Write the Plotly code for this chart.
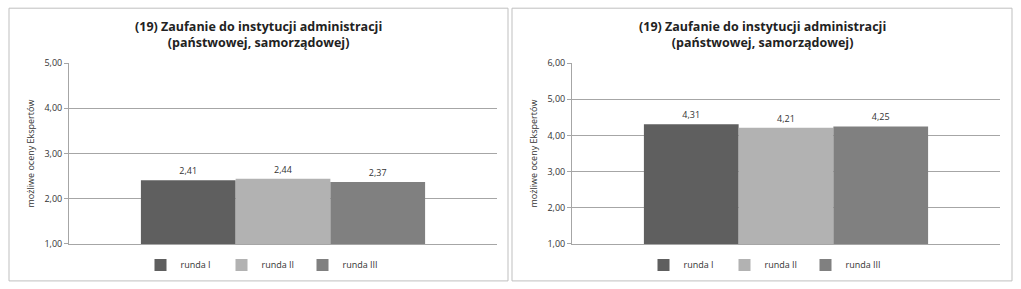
import plotly.graph_objects as go

series_names = ["runda I", "runda II", "runda III"]
colors = ["#5f5f5f", "#b2b2b2", "#808080"]
left_values = [2.41, 2.44, 2.37]
right_values = [4.31, 4.21, 4.25]
category = [""]
title_text = "<b>(19) Zaufanie do instytucji administracji<br>(państwowej, samorządowej)</b>"
y_title = "możliwe oceny Ekspertów"
left_ticks = [1, 2, 3, 4, 5]
right_ticks = [1, 2, 3, 4, 5, 6]

W, H = 1021, 289
FONT = "Open Sans"

def px_x(p):
    return p / W

def px_y(r):
    # empirical correction of vertical placement
    t = (r - 6.8) / 0.956
    return (H - t) / H

fig = go.Figure()

for i, (name, col) in enumerate(zip(series_names, colors)):
    fig.add_trace(go.Bar(
        x=category, y=[left_values[i]], name=name, marker_color=col,
        marker_line_width=0,
        text=[f"{left_values[i]:.2f}".replace(".", ",")], textposition="outside",
        textfont=dict(size=9, color="#333333", family=FONT), cliponaxis=False,
        xaxis="x", yaxis="y", legend="legend", showlegend=True,
    ))
for i, (name, col) in enumerate(zip(series_names, colors)):
    fig.add_trace(go.Bar(
        x=category, y=[right_values[i]], name=name, marker_color=col,
        marker_line_width=0,
        text=[f"{right_values[i]:.2f}".replace(".", ",")], textposition="outside",
        textfont=dict(size=9, color="#333333", family=FONT), cliponaxis=False,
        xaxis="x2", yaxis="y2", legend="legend2", showlegend=True,
    ))

ydom = [px_y(244), px_y(63)]
axis_common = dict(
    showgrid=True, gridcolor="#a6a6a6", gridwidth=1,
    showline=True, linecolor="#a6a6a6", linewidth=1,
    ticks="outside", ticklen=4, tickcolor="#a6a6a6",
    tickformat=".2f", tickfont=dict(size=9, color="#333333", family=FONT),
    zeroline=False,
)
legend_common = dict(orientation="h", xanchor="center", yanchor="middle",
                     font=dict(size=9, family=FONT, color="#333333"), itemwidth=30,
                     entrywidth=36, entrywidthmode="pixels",
                     bgcolor="rgba(0,0,0,0)", tracegroupgap=0, itemsizing="constant")
fig.update_layout(
    width=W, height=H,
    margin=dict(l=0, r=0, t=0, b=0),
    paper_bgcolor="white", plot_bgcolor="white",
    separators=", ",
    barmode="group", bargap=0.336, bargroupgap=0,
    font=dict(family=FONT, color="#333333"),
    xaxis=dict(domain=[px_x(69), px_x(497)], showline=True, linecolor="#a6a6a6",
               showticklabels=False, ticks=""),
    yaxis=dict(domain=ydom, range=[1, 5], tickvals=left_ticks, anchor="x",
               title=dict(text=y_title, font=dict(size=9, family=FONT, color="#333333"), standoff=8),
               **axis_common),
    xaxis2=dict(domain=[px_x(572), px_x(1000)], showline=True, linecolor="#a6a6a6",
                showticklabels=False, ticks="", anchor="y2"),
    yaxis2=dict(domain=ydom, range=[1, 6], tickvals=right_ticks, anchor="x2",
                title=dict(text=y_title, font=dict(size=9, family=FONT, color="#333333"), standoff=8),
                **axis_common),
    legend=dict(x=px_x(262), y=px_y(265), **legend_common),
    legend2=dict(x=px_x(765), y=px_y(265), **legend_common),
    shapes=[
        dict(type="rect", xref="paper", yref="paper", x0=px_x(9), x1=px_x(508),
             y0=px_y(281), y1=px_y(8), line=dict(color="#bfbfbf", width=1), layer="below"),
        dict(type="rect", xref="paper", yref="paper", x0=px_x(512), x1=px_x(1012),
             y0=px_y(281), y1=px_y(8), line=dict(color="#bfbfbf", width=1), layer="below"),
    ],
    annotations=[
        dict(text=title_text, xref="paper", yref="paper", x=px_x(258), y=px_y(34),
             xanchor="center", yanchor="middle", showarrow=False,
             font=dict(size=12.5, family=FONT, color="#222222")),
        dict(text=title_text, xref="paper", yref="paper", x=px_x(762), y=px_y(34),
             xanchor="center", yanchor="middle", showarrow=False,
             font=dict(size=12.5, family=FONT, color="#222222")),
    ],
)

fig.write_html("out.html")
